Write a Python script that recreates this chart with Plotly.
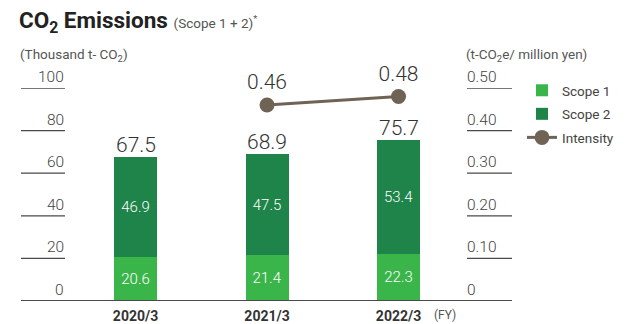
import plotly.graph_objects as go

# Fiscal years and emissions (thousand t-CO2)
years = ["2020/3", "2021/3", "2022/3"]
scope1 = [20.6, 21.4, 22.3]
scope2 = [46.9, 47.5, 53.4]
totals = [67.5, 68.9, 75.7]
# Emission intensity (t-CO2e / million yen), shown for two years only
intensity_years = ["2021/3", "2022/3"]
intensity = [0.46, 0.48]

left_ticks = [0, 20, 40, 60, 80, 100]
right_ticks = [0, 0.10, 0.20, 0.30, 0.40, 0.50]
right_tick_text = ["0", "0.10", "0.20", "0.30", "0.40", "0.50"]

C_S1 = "#3ab54a"
C_S2 = "#1e8449"
C_INT = "#6e6354"
C_TXT = "#333333"
C_AX = "#4a4a4a"
NUM_FONT = "Roboto"

W, H = 627, 324
ML, MR, MT, MB = 21, 115, 88, 23
PW = W - ML - MR
PH = H - MT - MB


def px_to_paper_x(px):
    return (px - ML) / PW


def px_to_paper_y(py):
    return (H - MB - py) / PH


fig = go.Figure()

fig.add_trace(go.Bar(
    x=years, y=scope1, name="Scope 1", legendgroup="s1",
    marker=dict(color=C_S1, line=dict(width=0)),
    width=0.327, text=[f"{v:.1f}" for v in scope1], textposition="inside",
    insidetextanchor="middle", textangle=0,
    textfont=dict(family=NUM_FONT, size=15, color="white", weight=300),
    hoverinfo="skip",
))
fig.add_trace(go.Bar(
    x=years, y=scope2, name="Scope 2", legendgroup="s2",
    marker=dict(color=C_S2, line=dict(width=0)),
    width=0.327, text=[f"{v:.1f}" for v in scope2], textposition="inside",
    insidetextanchor="middle", textangle=0,
    textfont=dict(family=NUM_FONT, size=15, color="white", weight=300),
    hoverinfo="skip",
))
fig.add_trace(go.Scatter(
    x=intensity_years, y=intensity, name="Intensity", legendgroup="int", yaxis="y2",
    mode="lines+markers+text", line=dict(color=C_INT, width=3),
    marker=dict(color=C_INT, size=15),
    text=[f"{v:.2f}" for v in intensity], textposition="top center",
    textfont=dict(family=NUM_FONT, size=21, color=C_TXT, weight=300),
    cliponaxis=False, hoverinfo="skip",
))

annotations = []
shapes = []

# Totals above each stacked bar
for yr, t in zip(years, totals):
    annotations.append(dict(
        x=yr, y=t, xref="x", yref="y", text=f"{t:.1f}", showarrow=False,
        yanchor="bottom", yshift=-2,
        font=dict(family=NUM_FONT, size=21, color=C_TXT, weight=300),
    ))

# Left axis: short tick rules with labels sitting above them
for v in left_ticks:
    if v > 0:
        shapes.append(dict(type="line", xref="paper", yref="y",
                           x0=0, x1=px_to_paper_x(65), y0=v, y1=v,
                           line=dict(color=C_AX, width=1.3)))
    annotations.append(dict(
        x=px_to_paper_x(66), y=v, xref="paper", yref="y", text=str(v),
        showarrow=False, xanchor="right", yanchor="bottom", yshift=0,
        font=dict(family=NUM_FONT, size=15.5, color="#444444", weight=300),
    ))

# Right axis: tick rules and labels
for v, s in zip(right_ticks, right_tick_text):
    if v > 0:
        shapes.append(dict(type="line", xref="paper", yref="y2",
                           x0=px_to_paper_x(467), x1=1, y0=v, y1=v,
                           line=dict(color=C_AX, width=1.3)))
    annotations.append(dict(
        x=px_to_paper_x(465), y=v, xref="paper", yref="y2", text=s,
        showarrow=False, xanchor="left", yanchor="bottom", yshift=0,
        font=dict(family=NUM_FONT, size=15.5, color="#444444", weight=300),
    ))

# Baseline across the full width
shapes.append(dict(type="line", xref="paper", yref="y", x0=0, x1=1, y0=0, y1=0,
                   line=dict(color=C_AX, width=2)))

# Axis unit captions
annotations.append(dict(
    x=px_to_paper_x(18), y=px_to_paper_y(55), xref="paper", yref="paper",
    text="(Thousand t- CO<sub>2</sub>)", showarrow=False,
    xanchor="left", yanchor="middle",
    font=dict(family=NUM_FONT, size=13.5, color="#555555"),
))
annotations.append(dict(
    x=px_to_paper_x(464), y=px_to_paper_y(55), xref="paper", yref="paper",
    text="(t-CO<sub>2</sub>e/ million yen)", showarrow=False,
    xanchor="left", yanchor="middle",
    font=dict(family=NUM_FONT, size=13.5, color="#555555"),
))
annotations.append(dict(
    x=px_to_paper_x(432), y=px_to_paper_y(315), xref="paper", yref="paper",
    text="(FY)", showarrow=False, xanchor="left", yanchor="middle",
    font=dict(family=NUM_FONT, size=12, color="#555555"),
))

fig.update_layout(
    width=W, height=H,
    margin=dict(l=ML, r=MR, t=MT, b=MB, pad=0, autoexpand=False),
    paper_bgcolor="white", plot_bgcolor="white",
    barmode="stack",
    title=dict(
        text="<b>CO<sub>2</sub> Emissions</b> "
             "<span style='font-size:13.5px;color:#555555'>(Scope 1 + 2)<sup>*</sup></span>",
        x=19 / W, xref="container", xanchor="left",
        y=1 - 20 / H, yref="container", yanchor="middle",
        font=dict(family=NUM_FONT, size=22.5, color="#222222"),
    ),
    xaxis=dict(
        type="category", categoryorder="array", categoryarray=years,
        range=[-0.871, 2.863], showgrid=False, zeroline=False, showline=False,
        ticks="", tickfont=dict(family=NUM_FONT, size=14, color=C_TXT, weight="bold"),
        ticklabelstandoff=5,
    ),
    yaxis=dict(range=[0, 100], showgrid=False, zeroline=False, showline=False,
               showticklabels=False, ticks=""),
    yaxis2=dict(range=[0, 0.5], overlaying="y", side="right", showgrid=False,
                zeroline=False, showline=False, showticklabels=False, ticks=""),
    legend=dict(
        x=522 / W, y=1 - 75 / H, xref="container", yref="container",
        xanchor="left", yanchor="top", bgcolor="rgba(0,0,0,0)",
        font=dict(family=NUM_FONT, size=13.5, color="#444444"),
        tracegroupgap=3, itemwidth=30, traceorder="grouped",
    ),
    annotations=annotations,
    shapes=shapes,
    showlegend=True,
)

fig.write_html("out.html")
